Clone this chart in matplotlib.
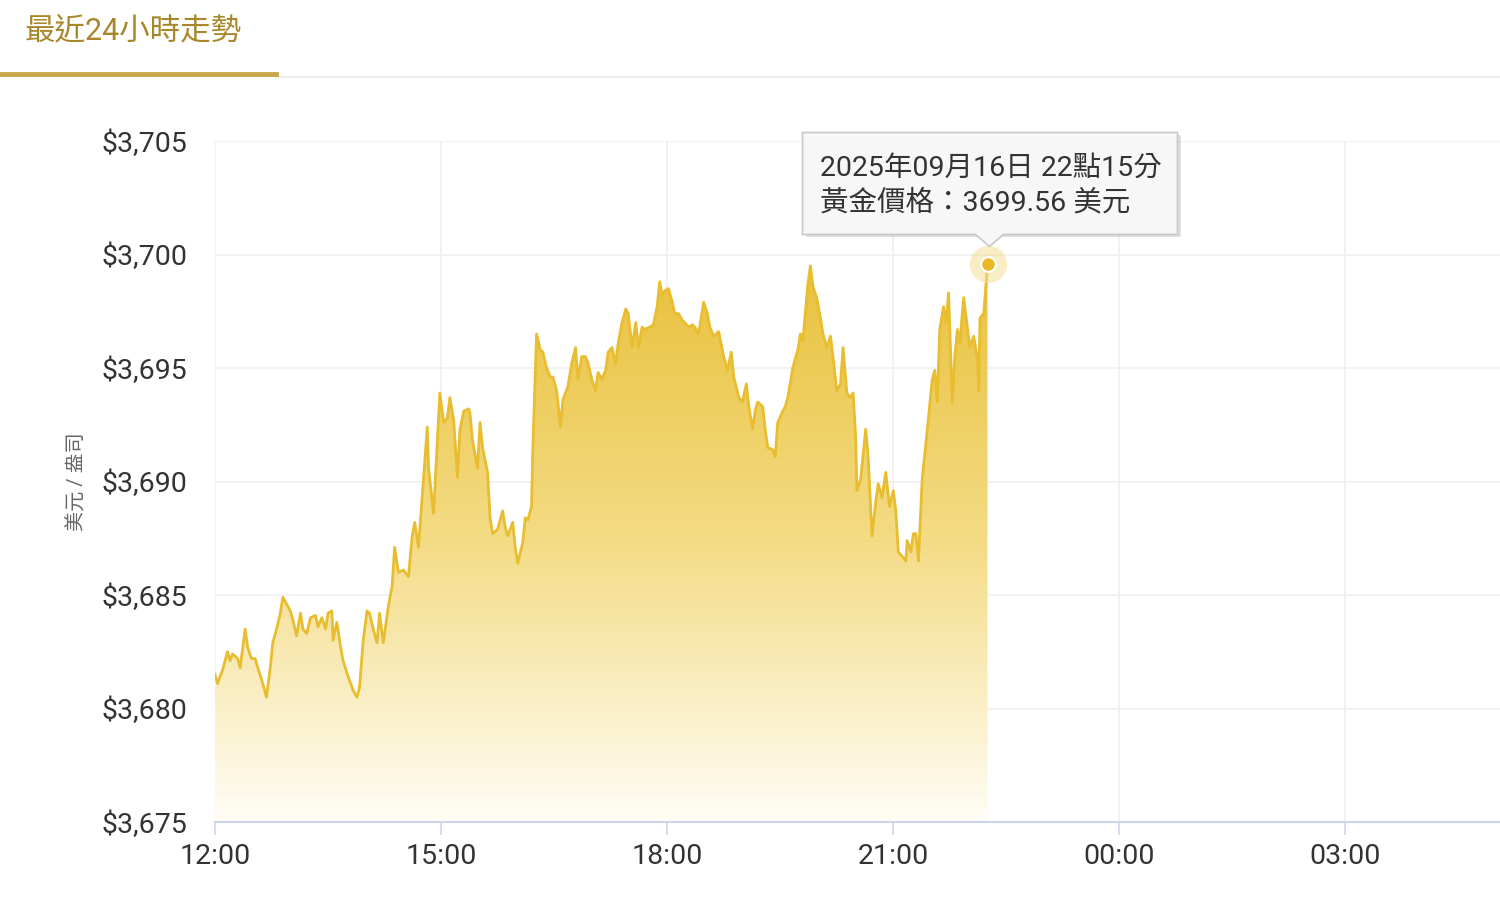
import numpy as np
import matplotlib.pyplot as plt
from matplotlib.colors import LinearSegmentedColormap
from matplotlib.patches import Polygon, Rectangle

# minutes after 12:00 and gold price (USD / oz)
minutes = [0, 2, 6, 10, 12, 14, 18, 20, 24, 26, 29, 32, 34, 37, 40, 41, 44, 46, 49, 52,
           54, 57, 60, 62, 65, 68, 70, 73, 76, 80, 82, 85, 88, 90, 93, 94, 97, 100, 102, 106,
           110, 113, 115, 118, 121, 123, 126, 129, 131, 134, 138, 141, 143, 146, 150, 154, 157, 159, 162, 166,
           169, 170, 174, 177, 179, 182, 185, 187, 190, 193, 195, 198, 202, 203, 205, 209, 211, 213, 217, 219,
           221, 225, 229, 231, 233, 237, 239, 241, 245, 247, 249, 252, 253, 256, 259, 261, 264, 267, 269, 272,
           275, 277, 281, 284, 287, 289, 292, 295, 297, 300, 303, 305, 308, 311, 313, 316, 319, 321, 324, 327,
           329, 332, 335, 337, 340, 342, 346, 349, 352, 354, 356, 358, 361, 364, 366, 369, 372, 374, 377, 380,
           382, 385, 389, 392, 394, 397, 401, 405, 408, 411, 413, 417, 420, 423, 425, 428, 430, 432, 436, 438,
           440, 444, 446, 448, 452, 454, 456, 460, 464, 466, 468, 472, 474, 476, 479, 482, 484, 487, 490, 492,
           495, 498, 500, 503, 506, 508, 510, 511, 514, 518, 520, 523, 526, 528, 531, 534, 537, 540, 542, 544,
           547, 550, 551, 554, 556, 558, 560, 563, 566, 568, 571, 573, 575, 577, 580, 582, 584, 587, 589, 591,
           593, 596, 599, 601, 604, 607, 608, 609, 612, 615]
prices = [3681.5, 3681.1, 3681.7, 3682.5, 3682.1, 3682.4, 3682.2, 3681.8, 3683.5, 3682.7,
          3682.2, 3682.2, 3681.8, 3681.3, 3680.7, 3680.5, 3681.8, 3682.9, 3683.5, 3684.2,
          3684.9, 3684.6, 3684.3, 3683.9, 3683.2, 3684.2, 3683.5, 3683.3, 3684.0, 3684.1,
          3683.6, 3684.0, 3683.5, 3684.2, 3684.3, 3683.0, 3683.8, 3682.7, 3682.1, 3681.4,
          3680.8, 3680.5, 3680.9, 3683.0, 3684.3, 3684.2, 3683.5, 3682.9, 3684.2, 3682.9,
          3684.5, 3685.4, 3687.1, 3686.0, 3686.1, 3685.8, 3687.6, 3688.2, 3687.1, 3690.1,
          3692.4, 3690.6, 3688.6, 3691.8, 3693.9, 3692.6, 3692.8, 3693.7, 3692.7, 3690.2,
          3692.3, 3693.1, 3693.2, 3693.0, 3691.8, 3690.6, 3692.6, 3691.5, 3690.4, 3688.4,
          3687.7, 3687.9, 3688.7, 3688.0, 3687.6, 3688.2, 3687.1, 3686.4, 3687.3, 3688.4,
          3688.3, 3688.9, 3691.4, 3696.5, 3695.8, 3695.7, 3695.0, 3694.6, 3694.6, 3694.0,
          3692.4, 3693.6, 3694.2, 3695.2, 3695.9, 3694.5, 3695.5, 3695.5, 3695.2, 3694.5,
          3694.0, 3694.8, 3694.5, 3694.9, 3695.7, 3695.9, 3695.2, 3696.1, 3697.0, 3697.6,
          3697.4, 3695.9, 3697.0, 3695.9, 3696.8, 3696.7, 3696.8, 3696.9, 3697.7, 3698.8,
          3698.2, 3698.4, 3698.5, 3697.9, 3697.4, 3697.4, 3697.1, 3697.0, 3696.8, 3696.9,
          3696.8, 3696.5, 3697.9, 3697.4, 3696.8, 3696.4, 3696.6, 3695.5, 3694.9, 3695.7,
          3694.6, 3693.7, 3693.5, 3694.3, 3693.3, 3692.3, 3693.1, 3693.5, 3693.3, 3692.3,
          3691.5, 3691.4, 3691.1, 3692.6, 3693.1, 3693.3, 3693.7, 3695.0, 3695.8, 3696.5,
          3696.2, 3698.7, 3699.5, 3698.6, 3698.1, 3697.2, 3696.5, 3695.9, 3696.4, 3695.5,
          3694.0, 3694.3, 3695.9, 3693.9, 3693.7, 3693.9, 3692.0, 3689.6, 3690.1, 3692.3,
          3691.1, 3687.6, 3689.1, 3689.9, 3689.3, 3690.4, 3688.9, 3689.6, 3688.7, 3686.9,
          3686.7, 3686.5, 3687.4, 3686.9, 3687.7, 3687.7, 3686.5, 3690.1, 3691.7, 3692.8,
          3694.5, 3694.9, 3693.5, 3696.7, 3697.7, 3697.0, 3698.3, 3693.5, 3695.5, 3696.7,
          3696.1, 3698.1, 3696.8, 3695.9, 3696.4, 3695.4, 3694.0, 3697.2, 3697.4, 3699.56]

x_ticks = [0, 180, 360, 540, 720, 900]
x_labels = ["12:00", "15:00", "18:00", "21:00", "00:00", "03:00"]
y_ticks = [3675, 3680, 3685, 3690, 3695, 3700, 3705]
y_labels = ["$3,675", "$3,680", "$3,685", "$3,690", "$3,695", "$3,700", "$3,705"]

tooltip_line1 = "2025年09月16日 22點15分"
tooltip_line2 = "黃金價格：3699.56 美元"

font = ["Roboto", "Noto Sans CJK TC", "DejaVu Sans"]
plt.rcParams["font.family"] = font

gold = "#e8bd2f"
fig = plt.figure(figsize=(15, 9), dpi=100)
ax = fig.add_axes([215 / 1500, 78 / 900, 1285 / 1500, 681 / 900])

x = np.array(minutes)
y = np.array(prices)
ax.set_xlim(0, 1023)
ax.set_ylim(3675, 3705)

# gradient fill under the line
cmap = LinearSegmentedColormap.from_list("goldfade", ["#fffdf6", "#f4dc86", "#e9c13c"])
grad = np.linspace(0, 1, 256).reshape(-1, 1)
im = ax.imshow(grad, cmap=cmap, aspect="auto", origin="lower",
               extent=[0, x[-1], 3675, 3699.5], zorder=1)
clip = Polygon(np.column_stack([np.r_[x, x[-1], x[0]], np.r_[y, 3675, 3675]]),
               closed=True, transform=ax.transData, facecolor="none", edgecolor="none")
ax.add_patch(clip)
im.set_clip_path(clip)
ax.plot(x, y, color=gold, lw=2, zorder=3)

# grid and axes styling
ax.set_xticks(x_ticks)
ax.set_xticklabels(x_labels)
ax.set_yticks(y_ticks)
ax.set_yticklabels(y_labels)
ax.grid(True, color="#f0f0f0", lw=1.2, zorder=0)
ax.set_axisbelow(True)
for s in ["top", "right", "left"]:
    ax.spines[s].set_visible(False)
ax.spines["bottom"].set_color("#ccd6eb")
ax.spines["bottom"].set_linewidth(1.5)
ax.tick_params(axis="x", length=9, width=1.2, color="#ccd6eb", labelsize=20.5,
               labelcolor="#333333", pad=6)
ax.tick_params(axis="y", length=0, labelsize=20.5, labelcolor="#333333", pad=20)
ax.set_ylabel("美元 / 盎司", fontsize=14.5, color="#666666", labelpad=11)

# last point marker
ax.scatter([x[-1]], [y[-1]], s=720, color="#f3dc8a", alpha=0.5, zorder=4, lw=0)
ax.scatter([x[-1]], [y[-1]], s=110, color="#e8b923", edgecolor="white", lw=1.5, zorder=5)

# tooltip (drawn in pixel offsets from the last point)
fig.canvas.draw()
px, py = ax.transData.transform((x[-1], y[-1]))
W, H = 1500, 900
def fx(v): return v / W
def fy(v): return v / H
bx0, bx1 = px - 185, px + 190
by0, by1 = py + 30, py + 132
shadow = Rectangle((fx(bx0 + 3), fy(by0 - 3)), fx(bx1 - bx0), fy(by1 - by0),
                   transform=fig.transFigure, facecolor="#000000", alpha=0.12,
                   edgecolor="none", zorder=9)
box = Polygon([(fx(bx0), fy(by0)), (fx(px - 12), fy(by0)), (fx(px + 2), fy(py + 18)),
               (fx(px + 16), fy(by0)), (fx(bx1), fy(by0)), (fx(bx1), fy(by1)),
               (fx(bx0), fy(by1))], closed=True, transform=fig.transFigure,
              facecolor="#f7f7f7", edgecolor="#c8c8c8", lw=1.2, zorder=10)
fig.add_artist(shadow)
fig.add_artist(box)
fig.text(fx(bx0 + 17), fy(by1 - 36), tooltip_line1, fontsize=20.5, color="#333333",
         va="center", ha="left", zorder=11, family=font)
fig.text(fx(bx0 + 17), fy(by1 - 70), tooltip_line2, fontsize=20.5, color="#333333",
         va="center", ha="left", zorder=11, family=font)

# header with tab underline
fig.text(25 / W, 1 - 31 / H, "最近24小時走勢", fontsize=22, color="#a8872a",
         va="center", ha="left", family=font)
fig.add_artist(plt.Line2D([276 / W, 1], [1 - 77 / H, 1 - 77 / H], color="#eeeeee",
                          lw=1.5, transform=fig.transFigure))
fig.add_artist(plt.Line2D([0, 276 / W], [1 - 74 / H, 1 - 74 / H], color="#c9a64a",
                          lw=3.5, transform=fig.transFigure))

fig.savefig("out.png", dpi=100)
